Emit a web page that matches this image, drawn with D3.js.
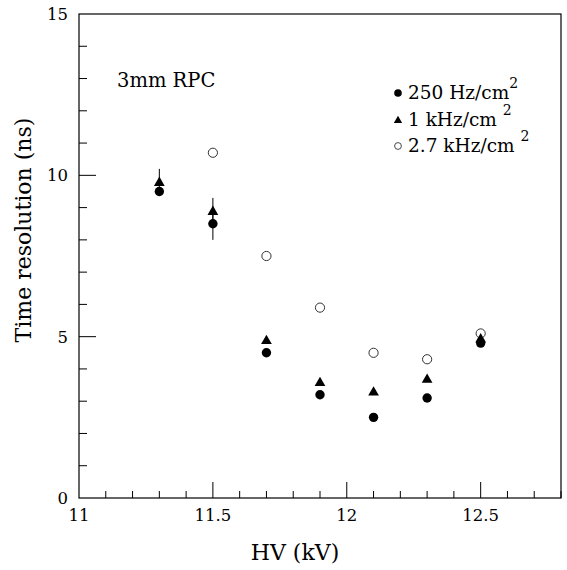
<!DOCTYPE html>
<html>
<head>
<meta charset="utf-8">
<script src="https://cdn.jsdelivr.net/npm/d3@7"></script>
<style>
  body { margin: 0; background: #fff; }
</style>
</head>
<body>
<svg id="chart" width="567" height="570"></svg>
<script>
// HV values (kV)
const hv250 = [11.3, 11.5, 11.7, 11.9, 12.1, 12.3, 12.5];
const res250 = [9.5, 8.5, 4.5, 3.2, 2.5, 3.1, 4.8];
const err250 = [0, 0.5, 0, 0, 0, 0, 0];

const hv1k = [11.3, 11.5, 11.7, 11.9, 12.1, 12.3, 12.5];
const res1k = [9.8, 8.9, 4.9, 3.6, 3.3, 3.7, 4.95];
const err1k = [0.4, 0.4, 0, 0, 0, 0, 0];

const hv27k = [11.5, 11.7, 11.9, 12.1, 12.3, 12.5];
const res27k = [10.7, 7.5, 5.9, 4.5, 4.3, 5.1];

const xTickLabels = [11, 11.5, 12, 12.5];
const yTickLabels = [0, 5, 10, 15];

const serif = "'DejaVu Serif', 'Liberation Serif', serif";

const svg = d3.select("#chart"),
      margin = { top: 14, right: 6, bottom: 72, left: 79 },
      width = +svg.attr("width") - margin.left - margin.right,
      height = +svg.attr("height") - margin.top - margin.bottom,
      g = svg.append("g").attr("transform", `translate(${margin.left},${margin.top})`);

const x = d3.scaleLinear().domain([11, 12.8]).range([0, width]);
const y = d3.scaleLinear().domain([0, 15]).range([height, 0]);

// frame
g.append("rect")
    .attr("width", width).attr("height", height)
    .attr("fill", "none").attr("stroke", "#000").attr("stroke-width", 1.2);

// x ticks (inward)
const xMinor = d3.range(11.1, 12.8, 0.1).map(d => +d.toFixed(1));
g.selectAll(".xt").data(xMinor).join("line")
    .attr("x1", d => x(d)).attr("x2", d => x(d))
    .attr("y1", height)
    .attr("y2", d => Math.abs(d * 2 - Math.round(d * 2)) < 1e-6 ? height - 16 : height - 7)
    .attr("stroke", "#000").attr("stroke-width", 1);

g.selectAll(".xl").data(xTickLabels).join("text")
    .style("font-family", serif)
    .attr("x", d => x(d)).attr("y", height + 23)
    .attr("text-anchor", "middle").attr("font-size", 16.5)
    .text(d => d);

// y ticks (inward)
const yMinor = d3.range(1, 15, 1);
g.selectAll(".yt").data(yMinor).join("line")
    .attr("y1", d => y(d)).attr("y2", d => y(d))
    .attr("x1", 0)
    .attr("x2", d => d % 5 === 0 ? 17 : 8)
    .attr("stroke", "#000").attr("stroke-width", 1);

g.selectAll(".yl").data(yTickLabels).join("text")
    .style("font-family", serif)
    .attr("x", -11).attr("y", d => y(d) + 6)
    .attr("text-anchor", "end").attr("font-size", 16.5)
    .text(d => d);

// axis titles
svg.append("text")
    .style("font-family", serif)
    .attr("x", 295).attr("y", 560)
    .attr("text-anchor", "middle").attr("font-size", 22)
    .text("HV (kV)");

svg.append("text")
    .style("font-family", serif)
    .attr("transform", "translate(31,230) rotate(-90)")
    .attr("text-anchor", "middle").attr("font-size", 22)
    .text("Time resolution (ns)");

g.append("text")
    .style("font-family", serif)
    .attr("x", 38).attr("y", 73)
    .attr("font-size", 19.5)
    .text("3mm RPC");

// error bars
const errData = hv250.map((d, i) => ({ x: d, y: res250[i], e: err250[i] }))
    .concat(hv1k.map((d, i) => ({ x: d, y: res1k[i], e: err1k[i] })))
    .filter(d => d.e > 0);
g.selectAll(".err").data(errData).join("line")
    .attr("x1", d => x(d.x)).attr("x2", d => x(d.x))
    .attr("y1", d => y(d.y - d.e)).attr("y2", d => y(d.y + d.e))
    .attr("stroke", "#000").attr("stroke-width", 1);

const tri = d3.symbol().type(d3.symbolTriangle).size(50);

// open circles
g.selectAll(".p27").data(hv27k).join("circle")
    .attr("cx", d => x(d)).attr("cy", (d, i) => y(res27k[i]))
    .attr("r", 4.6).attr("fill", "#fff").attr("stroke", "#333").attr("stroke-width", 1);

// triangles
g.selectAll(".p1k").data(hv1k).join("path")
    .attr("d", tri)
    .attr("transform", (d, i) => `translate(${x(d)},${y(res1k[i]) + 1})`)
    .attr("fill", "#000");

// filled circles
g.selectAll(".p250").data(hv250).join("circle")
    .attr("cx", d => x(d)).attr("cy", (d, i) => y(res250[i]))
    .attr("r", 4.7).attr("fill", "#000");

// legend
const legendLabels = ["250 Hz/cm", "1 kHz/cm ", "2.7 kHz/cm "];
const lg = svg.append("g");
legendLabels.forEach((lab, i) => {
    const ly = 99 + i * 26.5;
    if (i === 0) lg.append("circle").attr("cx", 398).attr("cy", ly - 6).attr("r", 3.8).attr("fill", "#000");
    if (i === 1) lg.append("path").attr("d", d3.symbol().type(d3.symbolTriangle).size(30))
        .attr("transform", `translate(398,${ly - 5})`).attr("fill", "#000");
    if (i === 2) lg.append("circle").attr("cx", 398).attr("cy", ly - 6).attr("r", 3.4)
        .attr("fill", "#fff").attr("stroke", "#333").attr("stroke-width", 0.9);
    const t = lg.append("text").style("font-family", serif)
        .attr("x", 408).attr("y", ly).attr("font-size", 18.5)
        .style("white-space", "pre");
    t.append("tspan").text(lab);
    t.append("tspan").attr("dy", -11).attr("font-size", 14).text("2");
});
</script>
</body>
</html>
